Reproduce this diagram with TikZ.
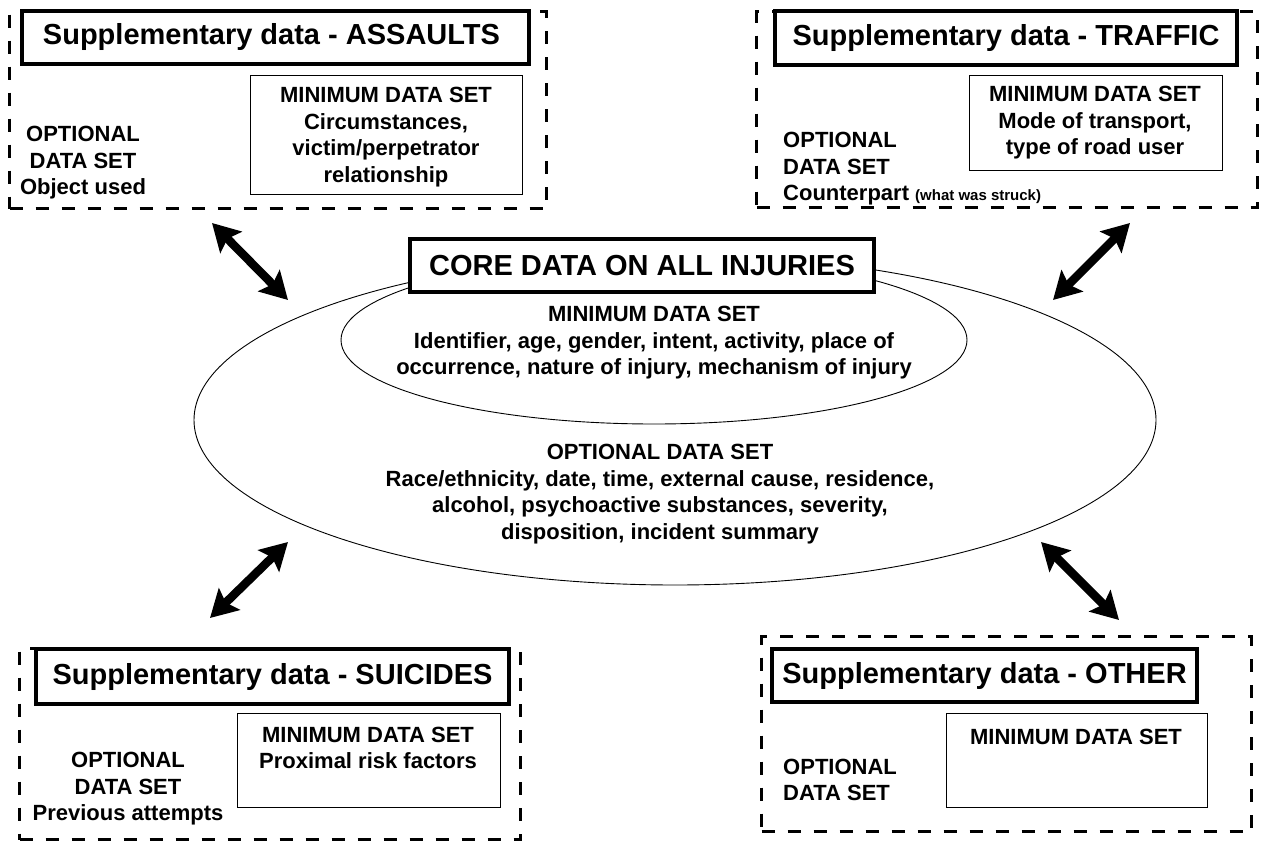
\documentclass[tikz,border=0pt]{standalone}
\usepackage{fontspec}
\setmainfont{Liberation Sans}
\usetikzlibrary{shapes.geometric,arrows.meta}
\begin{document}
\begin{tikzpicture}[x=1pt,y=-1pt,
  dashbox/.style={draw, line width=3.2pt, dash pattern=on 13pt off 13pt, anchor=north west, inner sep=0pt},
  titlebox/.style={draw, line width=4pt, fill=white, anchor=north west, inner sep=0pt, font=\fontsize{29}{33}\selectfont\bfseries},
  minbox/.style={draw, line width=1pt, anchor=north west, inner sep=0pt},
  body/.style={align=center, inner sep=0pt, font=\fontsize{22}{26.5}\selectfont\bfseries},
  bodyl/.style={align=left, anchor=west, inner sep=0pt, font=\fontsize{22}{26.5}\selectfont\bfseries},
  oval/.style={draw, ellipse, line width=0.9pt, inner sep=0pt},
  dblarrow/.style={line width=8.5pt, {Stealth[length=27pt,width=30pt,inset=5pt]}-{Stealth[length=27pt,width=30pt,inset=5pt]}}
]
\useasboundingbox (0,0) rectangle (1266,845);

% ---------- central ellipses ----------
\node[oval, minimum width=962pt, minimum height=330pt] (outer) at (675,420) {};
\node[oval, minimum width=626pt, minimum height=168pt] (inner) at (654,340) {};
\node[titlebox, minimum width=464pt, minimum height=53pt] (core) at (408,237) {CORE DATA ON ALL INJURIES};
\node[body] (coremin) at (654,343) {MINIMUM DATA SET\\Identifier, age, gender, intent, activity, place of\\occurrence, nature of injury, mechanism of injury};
\node[body] (coreopt) at (660,494) {OPTIONAL DATA SET\\Race/ethnicity, date, time, external cause, residence,\\alcohol, psychoactive substances, severity,\\disposition, incident summary};

% ---------- top left: ASSAULTS ----------
\node[dashbox, minimum width=537pt, minimum height=197pt] (tlg) at (8,10) {};
\node[titlebox, minimum width=507pt, minimum height=53pt] (tlt) at (20,9) {Supplementary data - ASSAULTS\hspace*{8pt}};
\node[minbox, minimum width=272pt, minimum height=119pt] (tlm) at (250,75) {};
\node[body] (tlmt) at (386,137) {MINIMUM DATA SET\\Circumstances,\\victim/perpetrator\\relationship};
\node[body] (tlo) at (83,163) {OPTIONAL\\DATA SET\\Object used};

% ---------- top right: TRAFFIC ----------
\node[dashbox, minimum width=501pt, minimum height=196pt] (trg) at (755,10) {};
\node[titlebox, minimum width=462pt, minimum height=54pt] (trt) at (773,9) {Supplementary data - TRAFFIC};
\node[minbox, minimum width=253pt, minimum height=95pt] (trm) at (969,75) {};
\node[body] (trmt) at (1095,123) {MINIMUM DATA SET\\Mode of transport,\\type of road user};
\node[bodyl] (tro) at (783,169) {OPTIONAL\\DATA SET\\Counterpart {\fontsize{15}{18}\selectfont (what was struck)}};

% ---------- bottom left: SUICIDES ----------
\node[dashbox, minimum width=501pt, minimum height=191pt] (blg) at (18,647) {};
\node[titlebox, minimum width=473pt, minimum height=55pt] (blt) at (34,647) {Supplementary data - SUICIDES};
\node[minbox, minimum width=263pt, minimum height=94pt] (blm) at (237,713) {};
\node[body] (blmt) at (368,748) {MINIMUM DATA SET\\Proximal risk factors};
\node[body] (blo) at (128,789) {OPTIONAL\\DATA SET\\Previous attempts};

% ---------- bottom right: OTHER ----------
\node[dashbox, minimum width=490pt, minimum height=195pt] (brg) at (760,635) {};
\node[titlebox, minimum width=425pt, minimum height=53pt] (brt) at (770,647) {Supplementary data - OTHER};
\node[minbox, minimum width=261pt, minimum height=94pt] (brm) at (946,713) {};
\node[body] (brmt) at (1076,737) {MINIMUM DATA SET};
\node[bodyl] (bro) at (783,780) {OPTIONAL\\DATA SET};

% ---------- arrows ----------
\coordinate (a1) at (212,223); \coordinate (b1) at (288,300);
\coordinate (a2) at (1130,223); \coordinate (b2) at (1053,300);
\coordinate (a3) at (288,542); \coordinate (b3) at (210,618);
\coordinate (a4) at (1041,542); \coordinate (b4) at (1119,620);
\draw[dblarrow] (a1) -- (b1);
\draw[dblarrow] (a2) -- (b2);
\draw[dblarrow] (a3) -- (b3);
\draw[dblarrow] (a4) -- (b4);
\end{tikzpicture}
\end{document}
